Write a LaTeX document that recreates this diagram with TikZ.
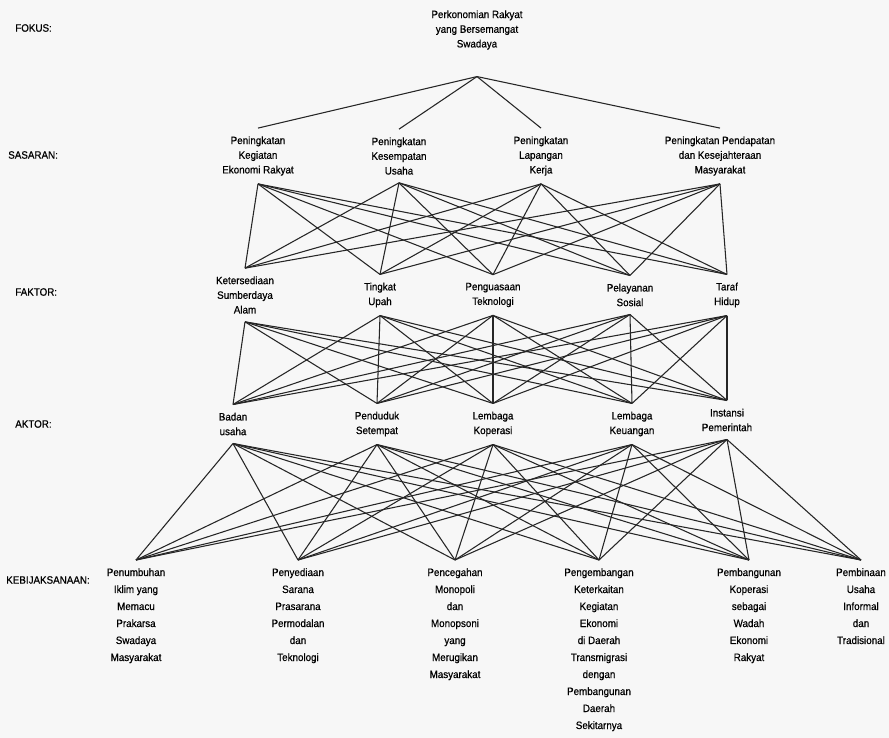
\documentclass[tikz,border=0pt]{standalone}
\usepackage{fontspec}
\setmainfont{Liberation Sans}[FakeStretch=0.92, FakeBold=0.6]

\begin{document}
\begin{tikzpicture}[x=0.75pt, y=-0.75pt,
  elem/.style={align=center, font=\fontsize{8}{11}\selectfont, inner xsep=1pt, inner ysep=6pt},
  kebij/.style={elem, font=\fontsize{8}{12.75}\selectfont, anchor=north},
  tingkat/.style={anchor=west, font=\fontsize{8}{9}\selectfont, inner sep=0pt},
  link/.style={line width=0.8pt, black!85}]
%\draw [help lines] (0,0) grid (889,738);
\fill[gray!6] (0,0) rectangle (889,738);
\useasboundingbox (0,0) rectangle (889,738);

% Levels
\node[tingkat] (lfokus) at (15,28)  {FOKUS:};
\node[tingkat] (lsas)   at (8,155)  {SASARAN:};
\node[tingkat] (lfak)   at (15,292) {FAKTOR:};
\node[tingkat] (lakt)   at (15,424) {AKTOR:};
\node[tingkat] (lkeb)   at (6,580)  {KEBIJAKSANAAN:};

\node[elem, inner ysep=20pt] (g) at (477,30) {Perkonomian Rakyat\\yang Bersemangat\\Swadaya};

\node[elem] (s1) at (258,156) {Peningkatan\\Kegiatan\\Ekonomi Rakyat};
\node[elem] (s2) at (399,156) {Peningkatan\\Kesempatan\\Usaha};
\node[elem] (s3) at (541,156) {Peningkatan\\Lapangan\\Kerja};
\node[elem] (s4) at (720,156) {Peningkatan Pendapatan\\dan Kesejahteraan\\Masyarakat};

\node[elem] (f1) at (245,295) {Ketersediaan\\Sumberdaya\\Alam};
\node[elem] (f2) at (380,295) {Tingkat\\Upah};
\node[elem] (f3) at (493,295) {Penguasaan\\Teknologi};
\node[elem] (f4) at (630,295) {Pelayanan\\Sosial};
\node[elem] (f5) at (727,295) {Taraf\\Hidup};

\node[elem] (a1) at (233,424) {Badan\\usaha};
\node[elem] (a2) at (377,424) {Penduduk\\Setempat};
\node[elem] (a3) at (493,424) {Lembaga\\Koperasi};
\node[elem] (a4) at (632,424) {Lembaga\\Keuangan};
\node[elem] (a5) at (727,420) {Instansi\\Pemerintah};

\node[kebij] (k1) at (136,560) {Penumbuhan\\Iklim yang\\Memacu\\Prakarsa\\Swadaya\\Masyarakat};
\node[kebij] (k2) at (298,560) {Penyediaan\\Sarana\\Prasarana\\Permodalan\\dan\\Teknologi};
\node[kebij] (k3) at (455,560) {Pencegahan\\Monopoli\\dan\\Monopsoni\\yang\\Merugikan\\Masyarakat};
\node[kebij] (k4) at (599,560) {Pengembangan\\Keterkaitan\\Kegiatan\\Ekonomi\\di Daerah\\Transmigrasi\\dengan\\Pembangunan\\Daerah\\Sekitarnya};
\node[kebij] (k5) at (749,560) {Pembangunan\\Koperasi\\sebagai\\Wadah\\Ekonomi\\Rakyat};
\node[kebij] (k6) at (861,560) {Pembinaan\\Usaha\\Informal\\dan\\Tradisional};

% Edges
\foreach \s in {1,...,4}
  \draw[link] (g.south) -- (s\s.north);
\foreach \s in {1,...,4}
  \foreach \f in {1,...,5}
    \draw[link] (s\s.south) -- (f\f.north);
\foreach \f in {1,...,5}
  \foreach \a in {1,...,5}
    \draw[link] (f\f.south) -- (a\a.north);
\foreach \a in {1,...,5}
  \foreach \k in {1,...,6}
    \draw[link] (a\a.south) -- (k\k.north);
\end{tikzpicture}
\end{document}
